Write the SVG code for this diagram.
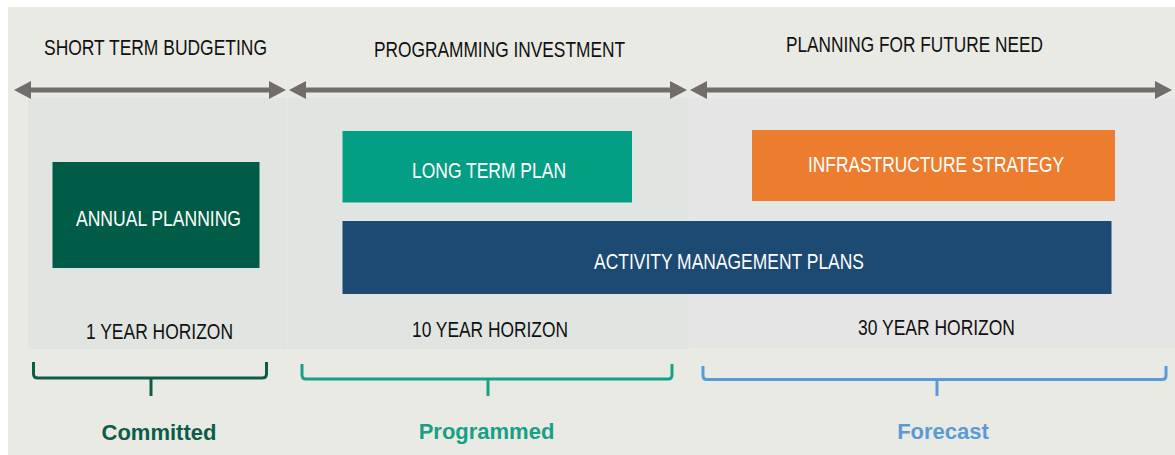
<svg xmlns="http://www.w3.org/2000/svg" width="1175" height="455" viewBox="0 0 1175 455">
<style>
.hdr{font-family:"Liberation Sans",Arial,sans-serif;font-size:22px;fill:#111;}
.box{font-family:"Liberation Sans",Arial,sans-serif;font-size:21.5px;fill:#ffffff;}
.hz{font-family:"Liberation Sans",Arial,sans-serif;font-size:22px;fill:#111;}
.lbl{font-family:"Liberation Sans",Arial,sans-serif;font-size:22px;font-weight:bold;text-anchor:middle;}
.arrow{fill:#736c6c;}
.br{fill:none;stroke-width:3;stroke-linejoin:round;}
</style>
<rect x="0" y="0" width="1175" height="455" fill="#ffffff"/>
<rect x="8" y="7" width="1167" height="448" fill="#eaeae4"/>
<g id="panels">
<rect x="28" y="98" width="259.5" height="251" fill="#e0e5e1"/>
<rect x="288" y="98" width="400.5" height="251" fill="#e0e5e1"/>
<rect x="689" y="98" width="486" height="250" fill="#e5e5e5"/>
</g>
<g id="headers">
<text class="hdr" x="44" y="55" textLength="223" lengthAdjust="spacingAndGlyphs">SHORT TERM BUDGETING</text>
<text class="hdr" x="374" y="57" textLength="251" lengthAdjust="spacingAndGlyphs">PROGRAMMING INVESTMENT</text>
<text class="hdr" x="786" y="52" textLength="257" lengthAdjust="spacingAndGlyphs">PLANNING FOR FUTURE NEED</text>
</g>
<g id="connectors">
<polygon class="arrow" points="14,90 31,81 31,87.5 269,87.5 269,81 286,90 269,99 269,92.5 31,92.5 31,99"/>
<polygon class="arrow" points="289,90 306,81 306,87.5 670,87.5 670,81 687,90 670,99 670,92.5 306,92.5 306,99"/>
<polygon class="arrow" points="690,90 707,81 707,87.5 1155,87.5 1155,81 1172,90 1155,99 1155,92.5 707,92.5 707,99"/>
<path class="br" stroke="#0d5c48" d="M33.5,362 V374 Q33.5,378 38,378 H262 Q266.5,378 266.5,374 V362"/>
<path class="br" stroke="#0d5c48" d="M151,378 V396"/>
<path class="br" stroke="#17a085" d="M302,364 V375 Q302,379 306,379 H668 Q672,379 672,375 V364"/>
<path class="br" stroke="#17a085" d="M488,379 V396"/>
<path class="br" stroke="#5b9bd5" d="M703,366 V375.5 Q703,379.5 707,379.5 H1162 Q1166,379.5 1166,375.5 V366"/>
<path class="br" stroke="#5b9bd5" d="M937,379.5 V396"/>
</g>
<g id="annual-planning">
<rect x="52.5" y="162" width="207" height="106" fill="#005c46"/>
<text class="box" x="76" y="226" textLength="165" lengthAdjust="spacingAndGlyphs">ANNUAL PLANNING</text>
</g>
<g id="long-term-plan">
<rect x="342.5" y="131" width="289.5" height="71.5" fill="#049e84"/>
<text class="box" x="412" y="178" textLength="154" lengthAdjust="spacingAndGlyphs">LONG TERM PLAN</text>
</g>
<g id="infrastructure-strategy">
<rect x="752" y="130" width="363" height="71" fill="#ec7d2f"/>
<text class="box" x="808" y="172" textLength="256" lengthAdjust="spacingAndGlyphs">INFRASTRUCTURE STRATEGY</text>
</g>
<g id="activity-management-plans">
<rect x="342.5" y="221" width="769" height="73" fill="#1c4a72"/>
<text class="box" x="594" y="269" textLength="270" lengthAdjust="spacingAndGlyphs">ACTIVITY MANAGEMENT PLANS</text>
</g>
<g id="horizons">
<text class="hz" x="86" y="339" textLength="147" lengthAdjust="spacingAndGlyphs">1 YEAR HORIZON</text>
<text class="hz" x="412" y="337" textLength="156" lengthAdjust="spacingAndGlyphs">10 YEAR HORIZON</text>
<text class="hz" x="858" y="335" textLength="157" lengthAdjust="spacingAndGlyphs">30 YEAR HORIZON</text>
</g>
<g id="labels">
<text class="lbl" x="159" y="440" fill="#0d5c48">Committed</text>
<text class="lbl" x="486.5" y="439" fill="#17a085">Programmed</text>
<text class="lbl" x="943" y="439" fill="#5b9bd5">Forecast</text>
</g>
</svg>
